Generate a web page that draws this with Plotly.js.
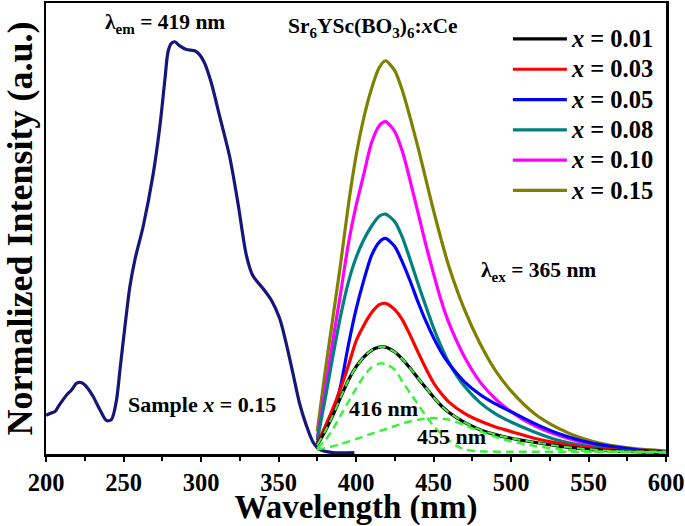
<!DOCTYPE html>
<html>
<head>
<meta charset="utf-8">
<script src="https://cdn.plot.ly/plotly-3.0.1.min.js"></script>
<style>html,body{margin:0;padding:0;background:#fff;}#chart{width:685px;height:526px;}</style>
</head>
<body>
<div id="chart"></div>
<script>
// Excitation spectrum (sample x = 0.15, λem = 419 nm)
const exWl  = [200, 202.6, 205.8, 207.9, 210.1, 213.3, 216.5, 219.8, 223, 226.2, 230.5, 234.8, 239.1, 242.3, 245.5, 247.7, 250.9, 254.1, 257.3, 262.7, 269.1, 273.4, 276.7, 278.8, 281, 283.1, 286.3, 290.6, 296, 299.2, 302.4, 306.7, 312.1, 318.5, 323.9, 329.3, 333.5, 340, 345.4, 350.7, 355, 359.3, 363.6, 367.9, 372.2, 376.5, 385, 399];
const exInt = [0.086, 0.09, 0.094, 0.105, 0.116, 0.131, 0.142, 0.157, 0.158, 0.149, 0.127, 0.098, 0.074, 0.077, 0.12, 0.186, 0.282, 0.371, 0.43, 0.505, 0.62, 0.725, 0.83, 0.893, 0.911, 0.914, 0.905, 0.897, 0.894, 0.885, 0.866, 0.822, 0.748, 0.659, 0.555, 0.44, 0.395, 0.367, 0.341, 0.301, 0.245, 0.179, 0.112, 0.064, 0.027, 0.01, 0.003, 0.003];

// Emission spectra (λex = 365 nm)
const emWl   = [375, 380, 385, 390, 395, 400, 405, 410, 415, 419, 425, 430, 435, 440, 445, 450, 455, 460, 470, 480, 490, 500, 515, 530, 545, 560, 580, 600];
const em001  = [0.02, 0.05, 0.085, 0.125, 0.163, 0.193, 0.215, 0.23, 0.237, 0.237, 0.226, 0.21, 0.19, 0.168, 0.147, 0.126, 0.107, 0.092, 0.07, 0.054, 0.043, 0.035, 0.026, 0.018, 0.012, 0.008, 0.005, 0.004];
const em003  = [0.022, 0.06, 0.10, 0.145, 0.195, 0.25, 0.285, 0.313, 0.331, 0.334, 0.32, 0.297, 0.263, 0.226, 0.19, 0.158, 0.134, 0.115, 0.09, 0.073, 0.06, 0.05, 0.035, 0.024, 0.016, 0.011, 0.006, 0.004];
const em005  = [0.025, 0.055, 0.09, 0.15, 0.24, 0.32, 0.385, 0.44, 0.47, 0.478, 0.46, 0.425, 0.383, 0.337, 0.295, 0.258, 0.226, 0.2, 0.16, 0.132, 0.111, 0.094, 0.068, 0.046, 0.03, 0.019, 0.01, 0.005];
const em008  = [0.03, 0.12, 0.215, 0.305, 0.38, 0.435, 0.475, 0.505, 0.527, 0.532, 0.515, 0.48, 0.43, 0.378, 0.328, 0.28, 0.238, 0.202, 0.15, 0.114, 0.089, 0.071, 0.049, 0.031, 0.02, 0.013, 0.008, 0.005];
const em010  = [0.035, 0.14, 0.25, 0.355, 0.465, 0.55, 0.62, 0.69, 0.728, 0.737, 0.715, 0.67, 0.605, 0.535, 0.465, 0.4, 0.34, 0.29, 0.215, 0.16, 0.122, 0.094, 0.063, 0.042, 0.027, 0.017, 0.01, 0.005];
const em015  = [0.05, 0.18, 0.30, 0.42, 0.55, 0.66, 0.745, 0.81, 0.857, 0.872, 0.85, 0.805, 0.745, 0.68, 0.61, 0.54, 0.475, 0.415, 0.32, 0.245, 0.185, 0.14, 0.09, 0.058, 0.036, 0.022, 0.012, 0.007];

// Gaussian fit components of x = 0.01
const g416Wl  = [375, 380, 385, 390, 395, 400, 405, 410, 416, 420, 425, 430, 435, 440, 445, 450, 455, 460, 465, 470, 480, 500, 550, 600];
const g416Int = [0.012, 0.03, 0.055, 0.085, 0.115, 0.145, 0.172, 0.192, 0.201, 0.198, 0.187, 0.16, 0.135, 0.11, 0.085, 0.062, 0.045, 0.03, 0.018, 0.01, 0.006, 0.005, 0.005, 0.005];
const g455Wl  = [375, 380, 390, 400, 410, 420, 430, 440, 450, 460, 470, 480, 490, 500, 515, 530, 550, 575, 600];
const g455Int = [0.01, 0.013, 0.022, 0.033, 0.045, 0.056, 0.068, 0.076, 0.08, 0.076, 0.064, 0.05, 0.038, 0.028, 0.018, 0.011, 0.006, 0.004, 0.003];

const seriesNames  = ['x = 0.01', 'x = 0.03', 'x = 0.05', 'x = 0.08', 'x = 0.10', 'x = 0.15'];
const seriesData   = [em001, em003, em005, em008, em010, em015];
const seriesColors = ['#000000', '#ff0000', '#0000ff', '#008080', '#ff00ff', '#808000'];

const FONT = 'Liberation Serif, Times New Roman, serif';

const traces = [];
traces.push({x: exWl, y: exInt, mode: 'lines', line: {color: '#16167a', width: 3.2, shape: 'spline', smoothing: 0.8}, showlegend: false, hoverinfo: 'skip'});
for (let i = seriesData.length - 1; i >= 0; i--) {
  const nm = seriesNames[i].replace('x', '<i>x</i>');
  traces.push({x: emWl, y: seriesData[i], mode: 'lines', name: '<span style="font-size:24.5px">' + nm + '</span>',
    legendrank: i + 1, line: {color: seriesColors[i], width: 3.2, shape: 'spline', smoothing: 0.7}});
}
const green = '#3ef03e';
traces.push({x: g416Wl, y: g416Int, mode: 'lines', line: {color: green, width: 2.5, dash: '8px,5px', shape: 'spline', smoothing: 0.7}, showlegend: false});
traces.push({x: g455Wl, y: g455Int, mode: 'lines', line: {color: green, width: 2.5, dash: '8px,5px', shape: 'spline', smoothing: 0.7}, showlegend: false});
traces.push({x: emWl, y: em001, mode: 'lines', line: {color: green, width: 2, dash: '8px,5px', shape: 'spline', smoothing: 0.7}, showlegend: false});

const annFont = {family: FONT, size: 21.5, color: '#000', weight: 'bold'};
const smallFont = {family: FONT, size: 22, color: '#000', weight: 'bold'};
const layout = {
  width: 685, height: 526,
  margin: {l: 46, r: 19, t: 3, b: 72},
  paper_bgcolor: '#fff', plot_bgcolor: '#fff',
  font: {family: FONT, color: '#000', weight: 'bold'},
  showlegend: true,
  legend: {x: 0.745, y: 0.965, xanchor: 'left', yanchor: 'top', bgcolor: 'rgba(0,0,0,0)',
    font: {family: FONT, size: 21, color: '#000', weight: 'bold'}, itemwidth: 54, traceorder: 'normal'},
  xaxis: {range: [200, 600], tick0: 200, dtick: 50, ticks: 'outside', ticklen: 5, tickwidth: 2, tickcolor: '#000',
    showline: true, linewidth: 2.5, linecolor: '#000', mirror: true, showgrid: false, zeroline: false,
    ticklabeloverflow: 'allow',
    tickfont: {family: FONT, size: 24.5, color: '#000', weight: 700},
    minor: {dtick: 25, ticks: 'outside', ticklen: 4, tickwidth: 2, tickcolor: '#000', showgrid: false},
    title: {text: 'Wavelength (nm)', font: {family: FONT, size: 33, color: '#000', weight: 700}, standoff: 2}},
  yaxis: {range: [0, 1], showticklabels: false, ticks: '', showgrid: false, zeroline: false,
    showline: true, linewidth: 2.5, linecolor: '#000', mirror: true,
    title: {text: 'Normalized Intensity (a.u.)', font: {family: FONT, size: 36, color: '#000', weight: 700}, standoff: 3}},
  annotations: [
    {x: 276.5, y: 0.955, xref: 'x', yref: 'y', text: 'λ<sub>em</sub> = 419 nm', showarrow: false, font: annFont},
    {x: 411, y: 0.945, xref: 'x', yref: 'y', text: 'Sr<sub>6</sub>YSc(BO<sub>3</sub>)<sub>6</sub>:<i>x</i>Ce', showarrow: false, font: annFont},
    {x: 518, y: 0.405, xref: 'x', yref: 'y', text: 'λ<sub>ex</sub> = 365 nm', showarrow: false, font: annFont},
    {x: 300.5, y: 0.109, xref: 'x', yref: 'y', text: 'Sample <i>x</i> = 0.15', showarrow: false, font: smallFont},
    {x: 418, y: 0.102, xref: 'x', yref: 'y', text: '416 nm', showarrow: false, font: smallFont},
    {x: 461.5, y: 0.038, xref: 'x', yref: 'y', text: '455 nm', showarrow: false, font: smallFont}
  ]
};
Plotly.newPlot('chart', traces, layout, {displayModeBar: false, staticPlot: true});
</script>
</body>
</html>
